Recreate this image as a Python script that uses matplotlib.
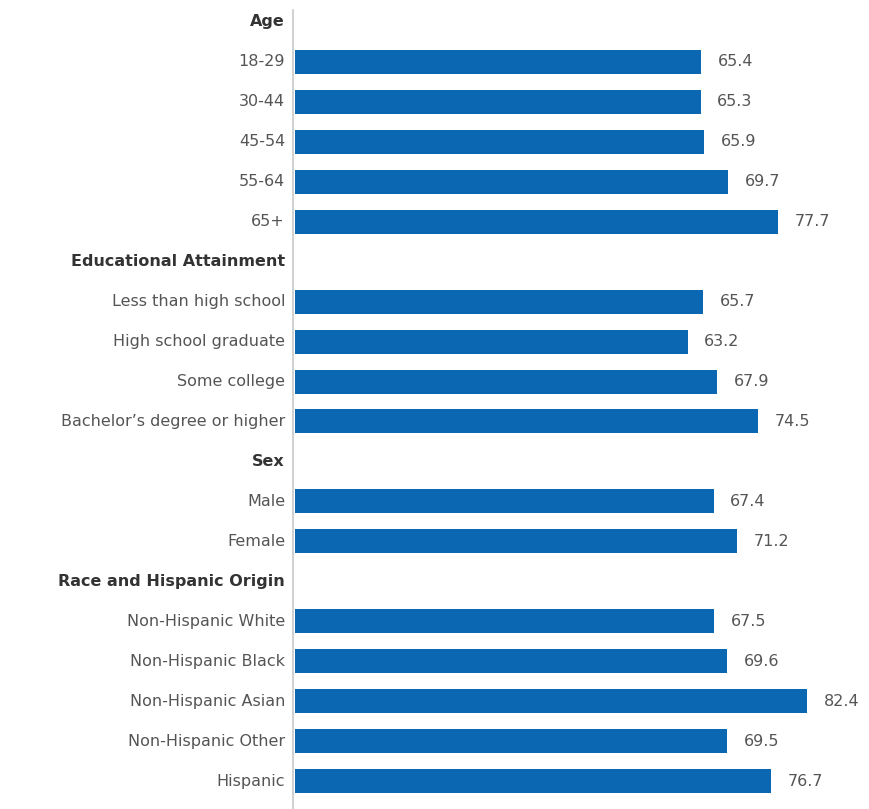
import matplotlib.pyplot as plt

# Rows in display order: group headers carry no value
rows = [
    "Age", "18-29", "30-44", "45-54", "55-64", "65+",
    "Educational Attainment", "Less than high school", "High school graduate",
    "Some college", "Bachelor\u2019s degree or higher",
    "Sex", "Male", "Female",
    "Race and Hispanic Origin", "Non-Hispanic White", "Non-Hispanic Black",
    "Non-Hispanic Asian", "Non-Hispanic Other", "Hispanic",
]
values = [
    None, 65.4, 65.3, 65.9, 69.7, 77.7,
    None, 65.7, 63.2, 67.9, 74.5,
    None, 67.4, 71.2,
    None, 67.5, 69.6, 82.4, 69.5, 76.7,
]

bar_color = "#0b67b2"
text_color = "#555555"

plt.rcParams['font.family'] = ['DejaVu Sans']

fig = plt.figure(figsize=(8.69, 8.09), dpi=100)
ax = fig.add_axes([295 / 869, 0, 1 - 295 / 869, 1])

for i, (name, v) in enumerate(zip(rows, values)):
    if v is None:
        ax.text(-1.6, i, name, ha="right", va="center", fontsize=11.5,
                fontweight="bold", color="#333333")
        continue
    ax.barh(i, v, height=0.6, color=bar_color)
    ax.text(-1.6, i, name, ha="right", va="center", fontsize=11.5, color=text_color)
    ax.annotate(f"{v:.1f}", (v, i), xytext=(12, 0), textcoords="offset points",
                ha="left", va="center", fontsize=11.5, color=text_color)

ax.set_xlim(0, 92.4)
ax.set_ylim(19.70, -0.55)
ax.axvline(-0.35, ymin=0, ymax=0.988, color="#c8c8c8", lw=1.2, clip_on=False)
ax.axis("off")

fig.savefig("out.png", dpi=100)
